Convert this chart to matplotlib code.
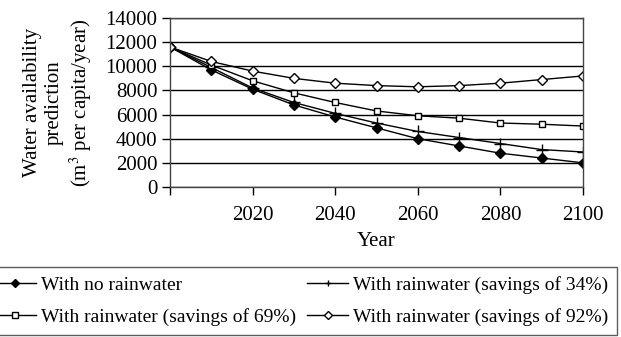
import matplotlib
matplotlib.use("Agg")
import matplotlib.pyplot as plt

plt.rcParams['font.family'] = ['Liberation Serif', 'DejaVu Serif']
plt.rcParams['mathtext.fontset'] = 'stix'

# water availability per capita (m3/year), one value per decade
years = [2000, 2010, 2020, 2030, 2040, 2050, 2060, 2070, 2080, 2090, 2100]
no_rain = [11600, 9700, 8100, 6800, 5800, 4900, 4000, 3400, 2800, 2400, 2000]
save_34 = [11600, 9900, 8200, 7000, 6100, 5300, 4600, 4100, 3600, 3100, 2900]
save_69 = [11600, 10100, 8800, 7800, 7000, 6300, 5900, 5700, 5300, 5200, 5050]
save_92 = [11600, 10400, 9600, 9000, 8600, 8400, 8300, 8400, 8600, 8900, 9200]

labels = ['With no rainwater', 'With rainwater (savings of 34%)',
          'With rainwater (savings of 69%)', 'With rainwater (savings of 92%)']
xticks = [2000, 2020, 2040, 2060, 2080, 2100]
xticklabels = ['', '2020', '2040', '2060', '2080', '2100']
yticks = list(range(0, 14001, 2000))

fig = plt.figure(figsize=(6.21, 3.37), dpi=100)
ax = fig.add_axes([170/621, 1-187/337, (583-170)/621, (187-18)/337])

l0, = ax.plot(years, no_rain, color='black', lw=1, marker='D', ms=5,
              mfc='black', label=labels[0])
l1, = ax.plot(years, save_34, color='black', lw=1, marker='+', ms=8,
              mew=1, label=labels[1])
l2, = ax.plot(years, save_69, color='black', lw=1, marker='s', ms=5,
              mfc='white', label=labels[2])
l3, = ax.plot(years, save_92, color='black', lw=1, marker='D', ms=5,
              mfc='white', label=labels[3])

ax.set_xlim(2000, 2100)
ax.set_ylim(0, 14000)
ax.set_xticks(xticks)
ax.set_xticklabels(xticklabels)
ax.set_yticks(yticks)
ax.yaxis.grid(True, color='black', lw=1)
ax.set_axisbelow(True)
ax.tick_params(labelsize=15, length=6, width=1, color='black', pad=3)
ax.tick_params(axis='x', pad=8)
for s in ax.spines.values():
    s.set_color('#444444')
    s.set_linewidth(1)

ax.set_xlabel('Year', fontsize=15, labelpad=5)
ax.set_ylabel('Water availability\nprediction\n(m$^3$ per capita/year)',
              fontsize=15, linespacing=1.2, labelpad=8)

# legend below the plot; rows: no rain / 34%, then 69% / 92%
handles = [l0, l2, l1, l3]
leg = fig.legend(handles, [h.get_label() for h in handles],
                 loc='upper right', bbox_to_anchor=(617/621, 1-267/337),
                 ncol=2, fontsize=14, frameon=True, fancybox=False,
                 handlelength=2.1, handletextpad=0.25, columnspacing=0.6,
                 borderpad=0.45, labelspacing=0.75, borderaxespad=0)
leg.get_frame().set_edgecolor('#333333')
leg.get_frame().set_linewidth(1)
for h in leg.legend_handles:
    h.set_markersize(4)

fig.savefig('out.png', dpi=100)
